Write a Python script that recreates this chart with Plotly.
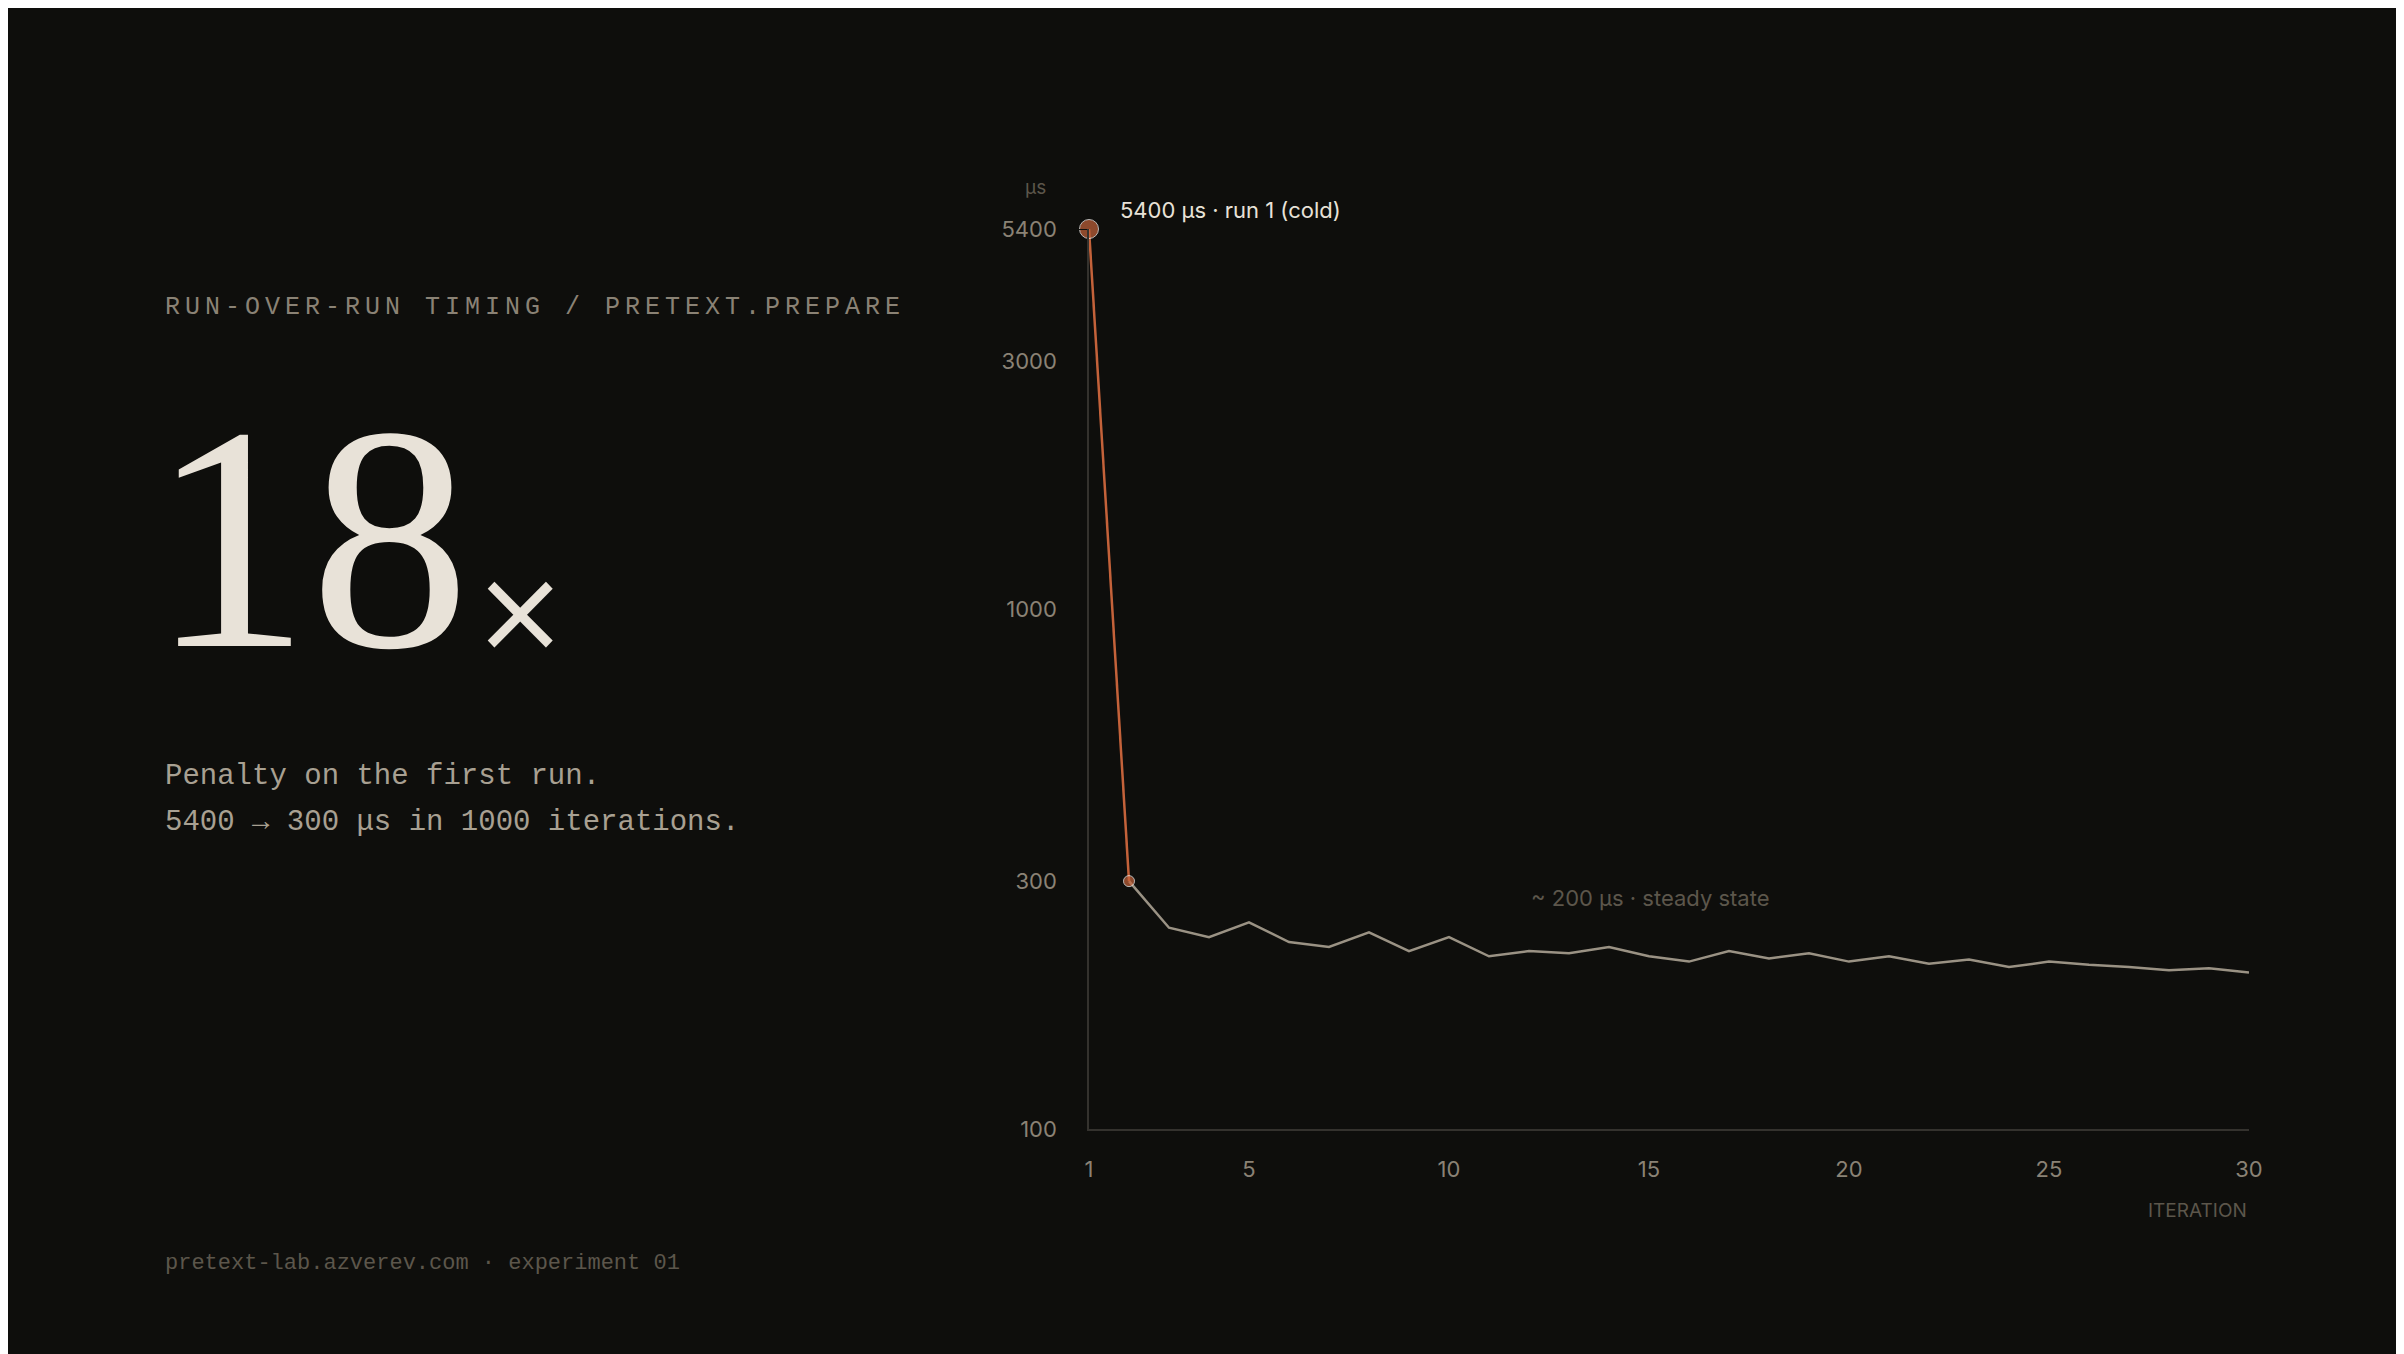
import plotly.graph_objects as go

iterations = list(range(1, 31))
timing_us = [5400, 300, 244, 234, 250, 229, 224, 239, 220, 234,
             215, 220, 218, 224, 215, 210, 220, 213, 218, 210,
             215, 208, 212, 205, 210, 207, 205, 202, 204, 200]
x_ticks = [1, 5, 10, 15, 20, 25, 30]
y_ticks = [100, 300, 1000, 3000, 5400]

BG = "#0e0e0c"
DIM = "#8a8275"
FAINT = "#5c564b"
CREAM = "#e8e2d8"
ORANGE = "#c4623a"
STEADY = "#9a9284"

fig = go.Figure()
fig.add_trace(go.Scatter(x=iterations[1:], y=timing_us[1:], mode="lines",
                         line=dict(color=STEADY, width=2.5), hoverinfo="skip"))
fig.add_trace(go.Scatter(x=iterations[:2], y=timing_us[:2], mode="lines+markers",
                         line=dict(color=ORANGE, width=2.5), cliponaxis=False,
                         marker=dict(color=ORANGE, size=[19, 11]), hoverinfo="skip"))

fig.update_layout(
    width=2404, height=1354, paper_bgcolor=BG, plot_bgcolor=BG, showlegend=False,
    margin=dict(l=1081, r=163, t=221, b=233),
    font=dict(family="Inter", color=DIM, size=22),
    xaxis=dict(range=[1, 30], tickvals=x_ticks, showgrid=False, zeroline=False,
               showline=True, linecolor="#34322e", linewidth=1.5,
               ticks="outside", ticklen=20, tickcolor=BG, tickfont=dict(size=22, color=DIM)),
    yaxis=dict(type="log", range=[2, 3.7324], tickvals=y_ticks, ticktext=[str(v) for v in y_ticks],
               showgrid=False, zeroline=False, showline=True, linecolor="#34322e", linewidth=1.5,
               ticks="outside", ticklen=26, tickcolor=BG, tickfont=dict(size=22, color=DIM)),
)

title = "\u2009".join("RUN-OVER-RUN TIMING / PRETEXT.PREPARE")

ann = [
    dict(text="μs", x=1040, y=179, size=19, color=FAINT, xanchor="right", family="Inter"),
    dict(text="ITERATION", x=2241, y=1202, size=19, color=FAINT, xanchor="right", family="Inter"),
    dict(text="5400 μs · run 1 (cold)", x=1110, y=202, size=22, color=CREAM, xanchor="left", family="Inter"),
    dict(text="~ 200 μs · steady state", x=1521, y=890, size=22, color=FAINT, xanchor="left", family="Inter"),
    dict(text=title, x=155, y=299, size=25, color=DIM, xanchor="left", family="Liberation Mono"),
    dict(text="18", x=140, y=530, size=320, color=CREAM, xanchor="left", family="Liberation Serif"),
    dict(text="×", x=462, y=603, size=115, color=CREAM, xanchor="left", family="DejaVu Sans"),
    dict(text="Penalty on the first run.", x=155, y=768, size=29, color="#a8a092",
         xanchor="left", family="Liberation Mono"),
    dict(text="5400 → 300 μs in 1000 iterations.", x=155, y=814, size=29, color="#a8a092",
         xanchor="left", family="Liberation Mono"),
    dict(text="pretext-lab.azverev.com · experiment 01", x=155, y=1255, size=22, color=FAINT,
         xanchor="left", family="Liberation Mono"),
]
# positions above are page pixels; convert to paper coords of the plot area
pw = 2404 - 1081 - 163
ph = 1354 - 221 - 233
for a in ann:
    fig.add_annotation(text=a["text"], x=(a["x"] - 1081) / pw, y=1 - (a["y"] - 221) / ph,
                       xref="paper", yref="paper", xanchor=a["xanchor"], yanchor="middle",
                       showarrow=False, font=dict(size=a["size"], color=a["color"], family=a["family"]))

fig.write_html("out.html")
